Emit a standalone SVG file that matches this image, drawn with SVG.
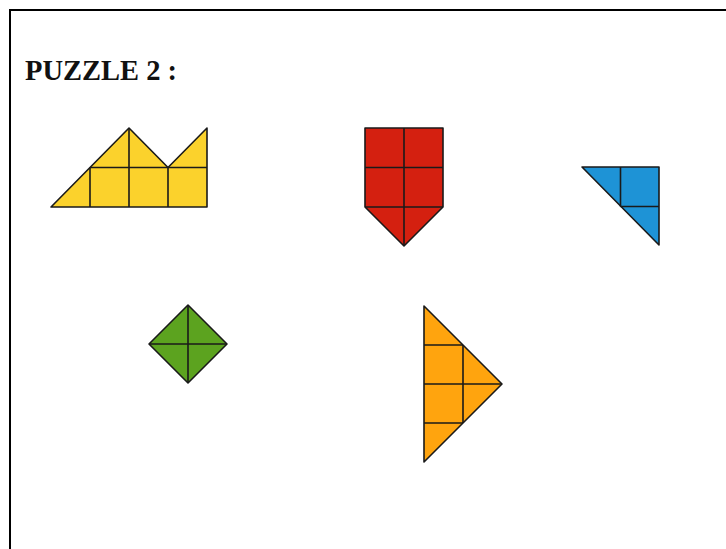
<svg xmlns="http://www.w3.org/2000/svg" width="726" height="549" viewBox="0 0 726 549">
<style>
.frame{fill:none;stroke:#000;stroke-width:2}
.title{font-family:"Liberation Serif","DejaVu Serif",serif;font-weight:bold;font-size:30px;fill:#111}
.piece{stroke:#1a1a1a;stroke-width:1.6;stroke-linejoin:round}
.grid{stroke:#1a1a1a;stroke-width:1.6;fill:none}
.y{fill:#FBD22C}
.r{fill:#D42010}
.b{fill:#1E93D6}
.g{fill:#5CA31F}
.o{fill:#FFA40E}
</style>
<rect width="726" height="549" fill="#fff"/>
<rect class="frame" x="10" y="10" width="800" height="600"/>
<text class="title" x="25" y="79.5" textLength="152" lengthAdjust="spacingAndGlyphs">PUZZLE 2 :</text>
<g id="yellow">
<polygon class="piece y" points="51,207 207,207 207,128 168,167.5 129,128"/>
<path class="grid" d="M90,167.5H207M90,167.5V207M129,128V207M168,167.5V207"/>
</g>
<g id="red">
<polygon class="piece r" points="365,128 443,128 443,207 404,246 365,207"/>
<path class="grid" d="M404,128V246M365,167.5H443M365,207H443"/>
</g>
<g id="blue">
<polygon class="piece b" points="582,167 659,167 659,245"/>
<path class="grid" d="M620.5,167V206.5M620.5,206.5H659"/>
</g>
<g id="green">
<polygon class="piece g" points="188,305 227,344 188,383 149,344"/>
<path class="grid" d="M188,305V383M149,344H227"/>
</g>
<g id="orange">
<polygon class="piece o" points="424,306 502,384 424,462"/>
<path class="grid" d="M424,345H463M424,384H502M424,423H463M463,345V423"/>
</g>
<g id="connectors"></g>
</svg>
